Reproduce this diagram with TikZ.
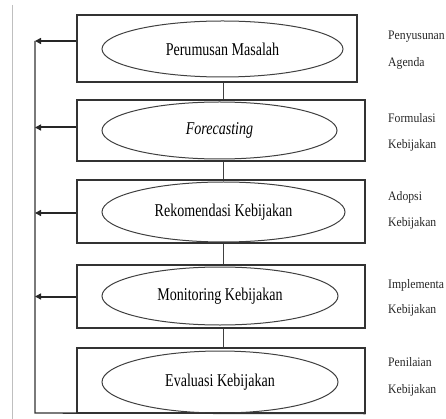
\documentclass[tikz,border=0pt]{standalone}
\usepackage{graphicx}
\usepackage{fontspec}
\setmainfont{Liberation Serif}
\usetikzlibrary{arrows.meta,shapes.geometric}
\newcommand\ovaltext[1]{\scalebox{0.78}[1]{\fontsize{18}{20}\selectfont #1}}
\newcommand\sidetext[1]{\scalebox{0.9}[1]{\fontsize{13}{15}\selectfont #1}}
\begin{document}
\begin{tikzpicture}[x=1pt,y=-1pt,
  stagebox/.style={draw=black!80,line width=1.1pt,rectangle,minimum width=288pt,inner sep=0pt},
  stageoval/.style={draw=black!75,line width=1pt,ellipse,inner sep=0pt},
  sidelabel/.style={anchor=west,inner sep=0pt,text=black!85},
  link/.style={draw=black!75,line width=1pt},
  fbline/.style={draw=black!80,line width=1.4pt},
  fbarrow/.style={draw=black!85,line width=2pt,-{Triangle[length=6pt,width=6pt]}}]
\useasboundingbox (0,0) rectangle (446,419);
% left page border
\draw[black!25,line width=0.8pt] (12,5) -- (12,419);
% boxes
\node[stagebox,minimum width=280pt,minimum height=67pt] (b1) at (217,48.5) {};
\node[stagebox,minimum height=61pt] (b2) at (221,130.5) {};
\node[stagebox,minimum height=63pt] (b3) at (221,211.5) {};
\node[stagebox,minimum height=63pt] (b4) at (221,296.5) {};
\node[stagebox,minimum height=65pt] (b5) at (221,380.5) {};
% ellipses
\node[stageoval,minimum width=241pt,minimum height=56pt] (e1) at (222.5,49) {\ovaltext{Perumusan Masalah}};
\node[stageoval,minimum width=235pt,minimum height=57pt] (e2) at (219.5,130.5) {\ovaltext{\itshape Forecasting}};
\node[stageoval,minimum width=243pt,minimum height=60pt] (e3) at (223.5,212) {\ovaltext{Rekomendasi Kebijakan}};
\node[stageoval,minimum width=236pt,minimum height=58pt] (e4) at (220,296) {\ovaltext{Monitoring Kebijakan}};
\node[stageoval,minimum width=236pt,minimum height=62pt] (e5) at (220,382) {\ovaltext{Evaluasi Kebijakan}};
% spine connectors
\coordinate (spine) at (223,0);
\draw[link] (b1.south -| spine) -- (b2.north -| spine);
\draw[link] (b2.south -| spine) -- (b3.north -| spine);
\draw[link] (b3.south -| spine) -- (b4.north -| spine);
\draw[link] (b4.south -| spine) -- (b5.north -| spine);
% feedback line
\coordinate (fbtop) at (35,41);
\coordinate (fbbot) at (35,413);
\draw[fbline] (fbtop) -- (fbbot) -- (b5.south east);
\draw[fbarrow] ([yshift=7.5pt]b1.west) -- ([yshift=7.5pt]b1.west -| fbtop);
\draw[fbarrow] ([yshift=3pt]b2.west) -- ([yshift=3pt]b2.west -| fbtop);
\draw[fbarrow] ([yshift=-1.5pt]b3.west) -- ([yshift=-1.5pt]b3.west -| fbtop);
\draw[fbarrow] (b4.west) -- (b4.west -| fbtop);
% side labels
\node[sidelabel] (l1a) at (388,37) {\sidetext{Penyusunan}};
\node[sidelabel] (l1b) at (388,63) {\sidetext{Agenda}};
\node[sidelabel] (l2a) at (388,118) {\sidetext{Formulasi}};
\node[sidelabel] (l2b) at (388,145) {\sidetext{Kebijakan}};
\node[sidelabel] (l3a) at (388,197) {\sidetext{Adopsi}};
\node[sidelabel] (l3b) at (388,223) {\sidetext{Kebijakan}};
\node[sidelabel] (l4a) at (388,285) {\sidetext{Implementa}};
\node[sidelabel] (l4b) at (388,310) {\sidetext{Kebijakan}};
\node[sidelabel] (l5a) at (388,362) {\sidetext{Penilaian}};
\node[sidelabel] (l5b) at (388,390) {\sidetext{Kebijakan}};
\end{tikzpicture}
\end{document}
